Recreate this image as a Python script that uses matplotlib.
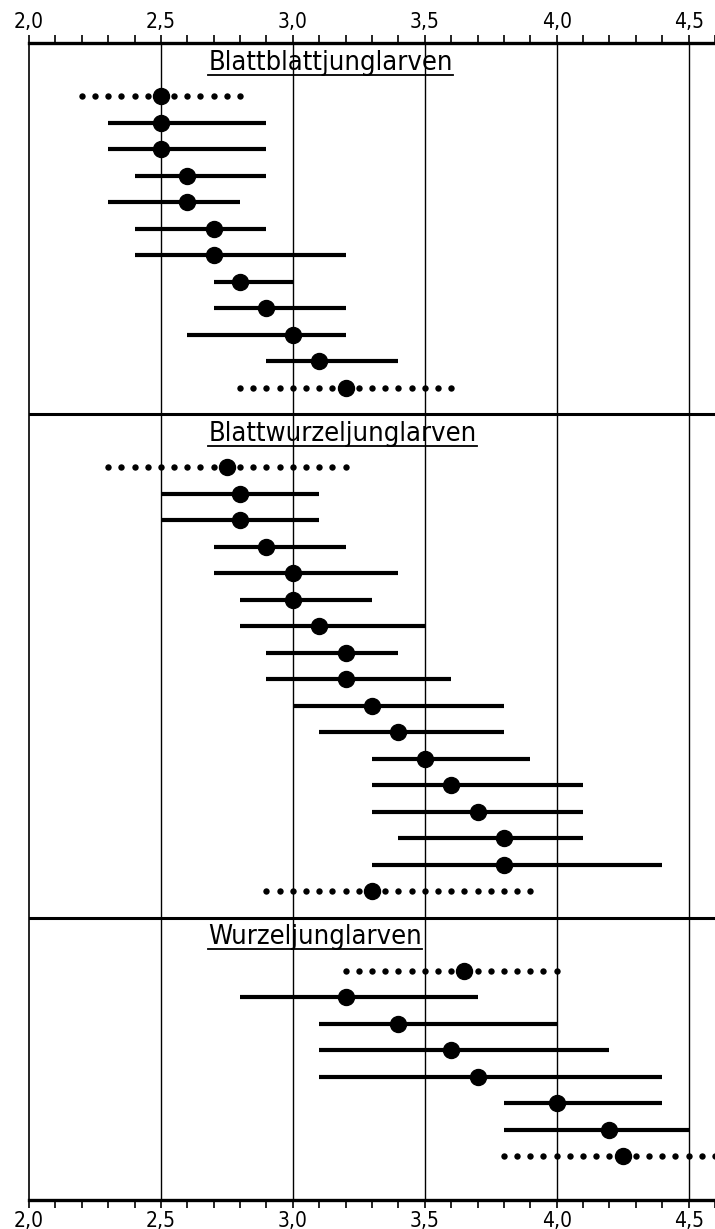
import numpy as np
import matplotlib
matplotlib.use("Agg")
import matplotlib.pyplot as plt

# %% Data (Mittelwert, Minimum, Maximum, punktiert = Gesamtwert)
titles = ["Blattblattjunglarven", "Blattwurzeljunglarven", "Wurzeljunglarven"]

p1_mean = [2.5, 2.5, 2.5, 2.6, 2.6, 2.7, 2.7, 2.8, 2.9, 3.0, 3.1, 3.2]
p1_lo = [2.2, 2.3, 2.3, 2.4, 2.3, 2.4, 2.4, 2.7, 2.7, 2.6, 2.9, 2.8]
p1_hi = [2.8, 2.9, 2.9, 2.9, 2.8, 2.9, 3.2, 3.0, 3.2, 3.2, 3.4, 3.6]
p1_dot = [True] + [False] * 10 + [True]

p2_mean = [2.75, 2.8, 2.8, 2.9, 3.0, 3.0, 3.1, 3.2, 3.2, 3.3, 3.4, 3.5,
           3.6, 3.7, 3.8, 3.8, 3.3]
p2_lo = [2.3, 2.5, 2.5, 2.7, 2.7, 2.8, 2.8, 2.9, 2.9, 3.0, 3.1, 3.3,
         3.3, 3.3, 3.4, 3.3, 2.9]
p2_hi = [3.2, 3.1, 3.1, 3.2, 3.4, 3.3, 3.5, 3.4, 3.6, 3.8, 3.8, 3.9,
         4.1, 4.1, 4.1, 4.4, 3.9]
p2_dot = [True] + [False] * 15 + [True]

p3_mean = [3.65, 3.2, 3.4, 3.6, 3.7, 4.0, 4.2, 4.25]
p3_lo = [3.2, 2.8, 3.1, 3.1, 3.1, 3.8, 3.8, 3.8]
p3_hi = [4.0, 3.7, 4.0, 4.2, 4.4, 4.4, 4.5, 4.7]
p3_dot = [True] + [False] * 6 + [True]

panels = [(p1_mean, p1_lo, p1_hi, p1_dot),
          (p2_mean, p2_lo, p2_hi, p2_dot),
          (p3_mean, p3_lo, p3_hi, p3_dot)]

xmajor = [2.0, 2.5, 3.0, 3.5, 4.0, 4.5]
xlabels = ["2,0", "2,5", "3,0", "3,5", "4,0", "4,5"]

#%% Plot
fig = plt.figure(figsize=(7.15, 12.29), dpi=100)
ax = fig.add_axes([29/715, 29/1229, 686/715, 1157/1229])

y0 = 0.0
seps = []
title_pos = []
for k, (m, lo, hi, dot) in enumerate(panels):
    title_pos.append(y0 + 0.75)
    ys = y0 + 2 + np.arange(len(m))
    for y, mm, a, b, d in zip(ys, m, lo, hi, dot):
        if d:
            # dotted range: round dots about every 0.05 units
            n = int(round((b - a) / 0.05)) + 1
            xd = np.linspace(a, b, n)
            ax.plot(xd, np.full(n, y), 'o', color='k', ms=4.6, mew=0,
                    clip_on=True)
        else:
            ax.plot([a, b], [y, y], color='k', lw=3.0, solid_capstyle='butt')
        ax.plot(mm, y, 'o', color='k', ms=11.5)
    y0 = ys[-1] + 1
    if k < len(panels) - 1:
        seps.append(y0)
ymax = y0 + 0.66

for s in seps:
    ax.axhline(s, color='k', lw=2.2)
for xv in xmajor[1:]:
    ax.axvline(xv, color='k', lw=1.0, zorder=0)

ax.set_xlim(2.0, 4.6)
ax.set_ylim(ymax, 0)

ax.spines['right'].set_visible(False)
ax.spines['top'].set_linewidth(2.4)
ax.spines['bottom'].set_linewidth(2.4)
ax.spines['left'].set_linewidth(1.2)

ax.set_yticks([])
ax.set_xticks(xmajor)
ax.set_xticklabels(xlabels)
ax.set_xticks(np.arange(2.0, 4.61, 0.1), minor=True)
ax.tick_params(axis='x', which='both', top=True, bottom=True, labeltop=True,
               labelbottom=True, direction='out', length=6, width=1.2,
               labelsize=15, pad=2)
for t in ax.get_xticklabels():
    t.set_fontstretch('condensed')

texts = []
for t, yt in zip(titles, title_pos):
    texts.append(ax.text(2.68, yt, t, ha='left', va='center', fontsize=19.5,
                         fontstretch='condensed'))

# underline the titles
fig.canvas.draw()
r = fig.canvas.get_renderer()
inv = ax.transData.inverted()
for tx in texts:
    bb = tx.get_window_extent(renderer=r)
    (xa, yb), (xb, _) = inv.transform([(bb.x0, bb.y0 + 1), (bb.x1, bb.y0)])
    ax.plot([xa, xb], [yb, yb], color='k', lw=1.3)

plt.savefig("out.png", dpi=100)
